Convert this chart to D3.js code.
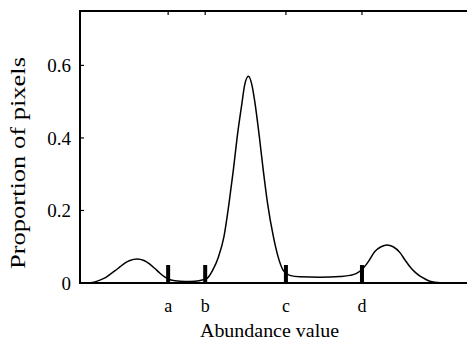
<!DOCTYPE html>
<html><head><meta charset="utf-8">
<script src="https://cdn.jsdelivr.net/npm/d3@7"></script>
<style>body{margin:0;background:#fff}svg{display:block}</style>
</head><body>
<svg id="c" width="467" height="341"></svg>
<script>
// abundance values (x) and proportion of pixels (y)
const abundance = [0,2.6,3.8,5.1,6.4,7.7,9.0,10.3,11.5,12.8,14.6,16.4,17.9,19.2,20.5,21.8,23.1,24.4,26.9,29.5,31.6,32.5,34.0,35.5,36.9,38.2,39.3,40.3,41.5,42.2,43.2,44.1,44.9,46.0,47.0,48.1,49.6,50.8,52.1,53.8,56.4,61.5,66.7,69.2,70.8,72.3,73.8,75.6,77.2,78.7,80.3,82.1,83.3,84.6,85.9,87.2,88.5,89.7,91.0,93.6,100];
const proportion = [0,0.001,0.003,0.008,0.014,0.024,0.034,0.045,0.055,0.062,0.066,0.062,0.052,0.040,0.027,0.016,0.009,0.006,0.004,0.005,0.009,0.012,0.035,0.072,0.127,0.219,0.310,0.402,0.494,0.545,0.570,0.545,0.494,0.402,0.310,0.219,0.127,0.072,0.035,0.021,0.017,0.016,0.018,0.021,0.026,0.037,0.057,0.087,0.100,0.105,0.100,0.083,0.064,0.045,0.030,0.019,0.011,0.005,0.002,0,0];
const thresholdLabels = ["a","b","c","d"];
const thresholdValues = [22.6,32.1,52.8,72.3];
const yTicks = [0,0.2,0.4,0.6];
const xLabel = "Abundance value";
const yLabel = "Proportion of pixels";

const FONT = "'Liberation Serif', Tinos, 'Nimbus Roman', 'Times New Roman', Times, 'DejaVu Serif', serif";
const svg = d3.select("#c");
const x = d3.scaleLinear().domain([0,100]).range([80,470]);
const y = d3.scaleLinear().domain([0,0.75]).range([283,11]);

// curve
const pts = abundance.map((a,i)=>[a,proportion[i]]);
svg.append("path").datum(pts)
  .attr("fill","none").attr("stroke","#000").attr("stroke-width",1.5)
  .attr("d", d3.line().x(d=>x(d[0])).y(d=>y(d[1])).curve(d3.curveMonotoneX));

// frame
const g = svg.append("g").attr("stroke","#000").attr("stroke-width",2).attr("fill","none");
g.append("line").attr("x1",x(0)).attr("x2",x(0)).attr("y1",y(0)+1).attr("y2",y(0.75)-1);
g.append("line").attr("x1",x(0)-1).attr("x2",x(100)).attr("y1",y(0.75)).attr("y2",y(0.75));
g.append("line").attr("x1",x(0)-1).attr("x2",x(100)).attr("y1",y(0)).attr("y2",y(0));

// y ticks
yTicks.forEach(t=>{
  svg.append("line").attr("x1",x(0)).attr("x2",x(0)+4).attr("y1",y(t)).attr("y2",y(t)).attr("stroke","#000").attr("stroke-width",1.2);
  svg.append("text").attr("font-family",FONT).attr("x",x(0)-9).attr("y",y(t)).attr("dy","0.36em").attr("text-anchor","end").attr("font-size",19).text(t===0?"0":d3.format(".1f")(t));
});

// threshold bars and labels
thresholdValues.forEach((v,i)=>{
  svg.append("rect").attr("x",x(v)-2).attr("y",y(0)-18).attr("width",4).attr("height",18).attr("fill","#000");
  svg.append("line").attr("x1",x(v)).attr("x2",x(v)).attr("y1",y(0.75)).attr("y2",y(0.75)+4).attr("stroke","#000").attr("stroke-width",1.2);
  svg.append("text").attr("font-family",FONT).attr("x",x(v)).attr("y",311.5).attr("text-anchor","middle").attr("font-size",18).text(thresholdLabels[i]);
});

svg.append("text").attr("font-family",FONT).attr("x",269.5).attr("y",337).attr("text-anchor","middle").attr("font-size",19)
  .attr("textLength",139).attr("lengthAdjust","spacingAndGlyphs").text(xLabel);
svg.append("text").attr("font-family",FONT).attr("transform","translate(25,163) rotate(-90)").attr("text-anchor","middle").attr("font-size",20)
  .attr("textLength",212).attr("lengthAdjust","spacingAndGlyphs").text(yLabel);
</script>
</body></html>
